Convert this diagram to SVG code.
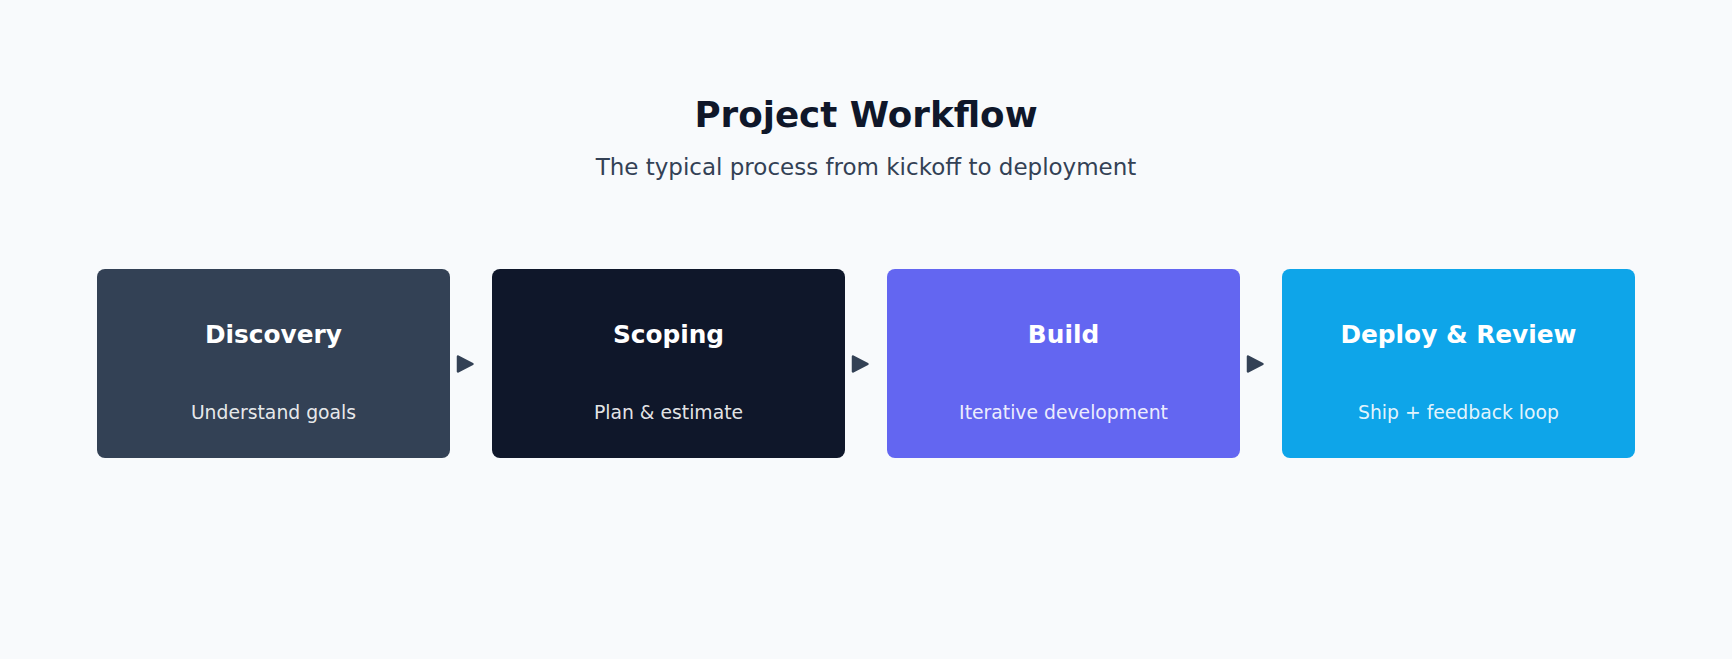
<svg xmlns="http://www.w3.org/2000/svg" width="1732" height="659" viewBox="0 0 1732 659">
<style>
.bg{fill:#f8fafc}
.title{font-family:"DejaVu Sans",sans-serif;font-weight:bold;font-size:35.7px;fill:#0f172a;text-anchor:middle}
.sub{font-family:"DejaVu Sans",sans-serif;font-size:23px;fill:#334155;text-anchor:middle}
.nt{font-family:"DejaVu Sans",sans-serif;font-weight:bold;font-size:24.8px;fill:#ffffff;text-anchor:middle}
.ns{font-family:"DejaVu Sans",sans-serif;font-size:18.8px;fill:#ffffff;fill-opacity:0.9;text-anchor:middle}
.arrow{fill:#334155;stroke:#334155;stroke-width:2.5;stroke-linejoin:round}
</style>
<rect class="bg" x="0" y="0" width="1732" height="659"/>
<text class="title" x="866" y="127">Project Workflow</text>
<text class="sub" x="866" y="175">The typical process from kickoff to deployment</text>
<g id="node-discovery">
<rect x="97" y="269" width="353" height="189" rx="8" fill="#334155"/>
<text class="nt" x="273.5" y="343">Discovery</text>
<text class="ns" x="273.5" y="419">Understand goals</text>
</g>
<g id="node-scoping">
<rect x="492" y="269" width="353" height="189" rx="8" fill="#0f172a"/>
<text class="nt" x="668.5" y="343">Scoping</text>
<text class="ns" x="668.5" y="419">Plan &amp; estimate</text>
</g>
<g id="node-build">
<rect x="887" y="269" width="353" height="189" rx="8" fill="#6366f1"/>
<text class="nt" x="1063.5" y="343">Build</text>
<text class="ns" x="1063.5" y="419">Iterative development</text>
</g>
<g id="node-deploy">
<rect x="1282" y="269" width="353" height="189" rx="8" fill="#0ea5e9"/>
<text class="nt" x="1458.5" y="343">Deploy &amp; Review</text>
<text class="ns" x="1458.5" y="419">Ship + feedback loop</text>
</g>
<g id="connectors">
<polygon class="arrow" points="458,356.5 472.5,364 458,371.5"/>
<polygon class="arrow" points="853,356.5 867.5,364 853,371.5"/>
<polygon class="arrow" points="1248,356.5 1262.5,364 1248,371.5"/>
</g>
</svg>
